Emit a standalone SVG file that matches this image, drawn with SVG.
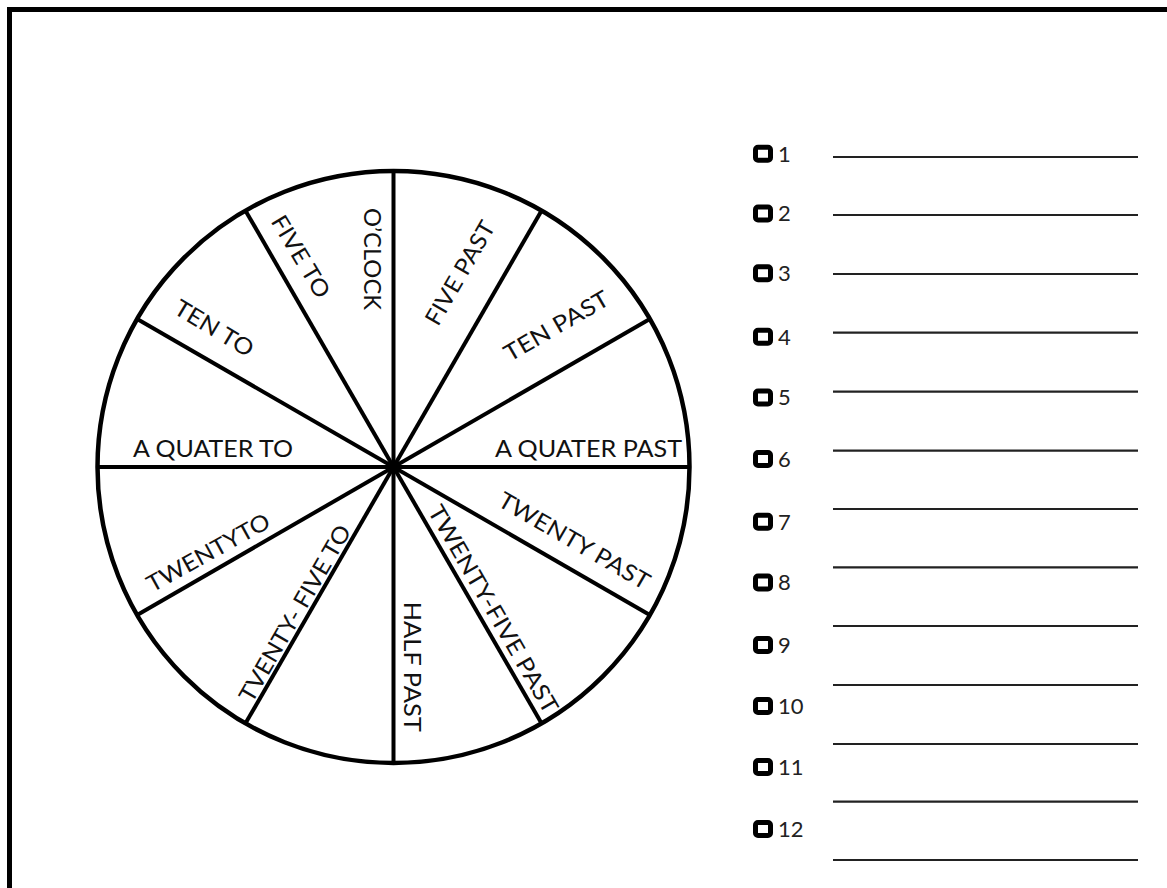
<svg xmlns="http://www.w3.org/2000/svg" width="1167" height="888" viewBox="0 0 1167 888">
<style>
.lbl{font-family:Lato,"Liberation Sans",sans-serif;font-size:23px;fill:#111;text-anchor:middle}
.num{font-family:Lato,"Liberation Sans",sans-serif;font-size:22px;fill:#222}
.spoke{stroke:#000;stroke-width:4;fill:none}
.box{fill:none;stroke:#000;stroke-width:5}
.rule{stroke:#222;stroke-width:2.2}
</style>
<rect x="0" y="0" width="1167" height="888" fill="#fff"/>
<rect id="frame" x="9.5" y="9.5" width="1200" height="900" fill="none" stroke="#000" stroke-width="5"/>
<g id="wheel">
<circle cx="393.5" cy="467" r="296" fill="#fff" stroke="#000" stroke-width="4.5"/>
<g id="spokes" class="spoke">
<line x1="393.5" y1="171" x2="393.5" y2="763"/>
<line x1="541.5" y1="210.65" x2="245.5" y2="723.35"/>
<line x1="649.85" y1="319" x2="137.15" y2="615"/>
<line x1="689.5" y1="467" x2="97.5" y2="467"/>
<line x1="649.85" y1="615" x2="137.15" y2="319"/>
<line x1="541.5" y1="723.35" x2="245.5" y2="210.65"/>
</g>
<circle cx="393.5" cy="467" r="4" fill="#000"/>
</g>
<g id="labels">
<g id="l-oclock" transform="translate(371.7,259) rotate(90)"><text class="lbl" y="8" textLength="102" lengthAdjust="spacingAndGlyphs">O’CLOCK</text></g>
<g id="l-fivepast" transform="translate(460,273) rotate(-60)"><text class="lbl" y="8" textLength="116" lengthAdjust="spacingAndGlyphs">FIVE PAST</text></g>
<g id="l-tenpast" transform="translate(556.5,326) rotate(-30)"><text class="lbl" y="8" textLength="117" lengthAdjust="spacingAndGlyphs">TEN  PAST</text></g>
<g id="l-quarterpast" transform="translate(588.5,448.5)"><text class="lbl" y="8" textLength="187" lengthAdjust="spacingAndGlyphs">A QUATER PAST</text></g>
<g id="l-twentypast" transform="translate(574.2,540.8) rotate(30)"><text class="lbl" y="8" textLength="171" lengthAdjust="spacingAndGlyphs">TWENTY  PAST</text></g>
<g id="l-twentyfivepast" transform="translate(493.3,609.2) rotate(60)"><text class="lbl" y="8" textLength="236" lengthAdjust="spacingAndGlyphs">TWENTY-FIVE PAST</text></g>
<g id="l-halfpast" transform="translate(411.5,666.7) rotate(90)"><text class="lbl" y="8" textLength="130" lengthAdjust="spacingAndGlyphs">HALF PAST</text></g>
<g id="l-twentyfiveto" transform="translate(295,613.3) rotate(-60)"><text class="lbl" y="8" textLength="200" lengthAdjust="spacingAndGlyphs">TVENTY- FIVE TO</text></g>
<g id="l-twentyto" transform="translate(208.3,552.5) rotate(-29)"><text class="lbl" y="8" textLength="137" lengthAdjust="spacingAndGlyphs">TWENTYTO</text></g>
<g id="l-quarterto" transform="translate(213,448.5)"><text class="lbl" y="8" textLength="160" lengthAdjust="spacingAndGlyphs">A QUATER TO</text></g>
<g id="l-tento" transform="translate(214,328.3) rotate(31)"><text class="lbl" y="8" textLength="88" lengthAdjust="spacingAndGlyphs">TEN  TO</text></g>
<g id="l-fiveto" transform="translate(300.8,256.5) rotate(59)"><text class="lbl" y="8" textLength="92" lengthAdjust="spacingAndGlyphs">FIVE TO</text></g>
</g>
<g id="list">
<g id="item1"><rect class="box" x="755.5" y="147.2" width="15" height="13" rx="2.5"/><text class="num" x="778" y="161.5">1</text></g>
<g id="item2"><rect class="box" x="755.5" y="207" width="15" height="13" rx="2.5"/><text class="num" x="778" y="221.3">2</text></g>
<g id="item3"><rect class="box" x="755.5" y="266.8" width="15" height="13" rx="2.5"/><text class="num" x="778" y="281">3</text></g>
<g id="item4"><rect class="box" x="755.5" y="330.2" width="15" height="13" rx="2.5"/><text class="num" x="778" y="344.5">4</text></g>
<g id="item5"><rect class="box" x="755.5" y="391" width="15" height="13" rx="2.5"/><text class="num" x="778" y="405.3">5</text></g>
<g id="item6"><rect class="box" x="755.5" y="452.5" width="15" height="13" rx="2.5"/><text class="num" x="778" y="466.8">6</text></g>
<g id="item7"><rect class="box" x="755.5" y="515.2" width="15" height="13" rx="2.5"/><text class="num" x="778" y="529.5">7</text></g>
<g id="item8"><rect class="box" x="755.5" y="576" width="15" height="13" rx="2.5"/><text class="num" x="778" y="590.3">8</text></g>
<g id="item9"><rect class="box" x="755.5" y="638.5" width="15" height="13" rx="2.5"/><text class="num" x="778" y="652.8">9</text></g>
<g id="item10"><rect class="box" x="755.5" y="699.5" width="15" height="13" rx="2.5"/><text class="num" x="778" y="713.8">10</text></g>
<g id="item11"><rect class="box" x="755.5" y="760.5" width="15" height="13" rx="2.5"/><text class="num" x="778" y="774.8">11</text></g>
<g id="item12"><rect class="box" x="755.5" y="822.5" width="15" height="13" rx="2.5"/><text class="num" x="778" y="836.8">12</text></g>
<g id="rules" class="rule">
<line x1="833" y1="157" x2="1138" y2="157"/>
<line x1="833" y1="215" x2="1138" y2="215"/>
<line x1="833" y1="274" x2="1138" y2="274"/>
<line x1="833" y1="332.7" x2="1138" y2="332.7"/>
<line x1="833" y1="391.7" x2="1138" y2="391.7"/>
<line x1="833" y1="450.7" x2="1138" y2="450.7"/>
<line x1="833" y1="509" x2="1138" y2="509"/>
<line x1="833" y1="567.3" x2="1138" y2="567.3"/>
<line x1="833" y1="626" x2="1138" y2="626"/>
<line x1="833" y1="685" x2="1138" y2="685"/>
<line x1="833" y1="744" x2="1138" y2="744"/>
<line x1="833" y1="801.7" x2="1138" y2="801.7"/>
<line x1="833" y1="860" x2="1138" y2="860"/>
</g>
</g>
</svg>
